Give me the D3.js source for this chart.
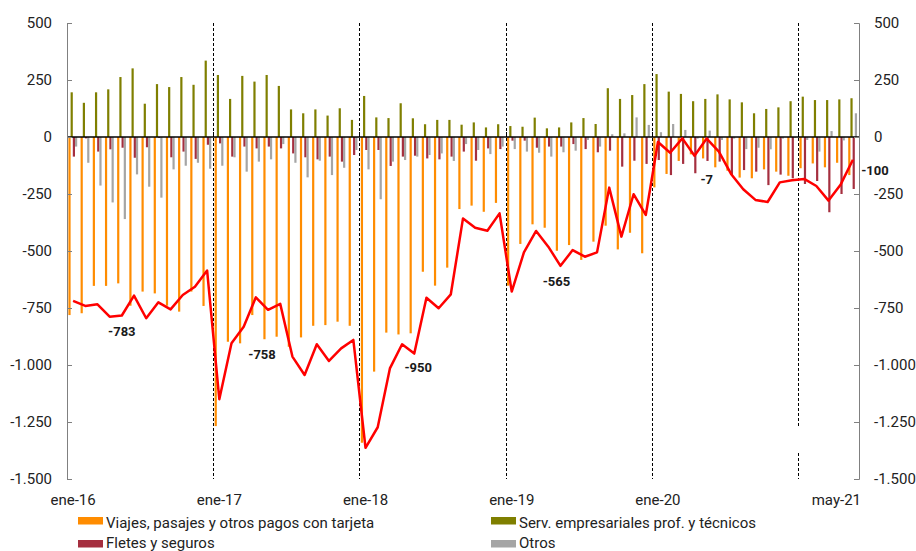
<!DOCTYPE html>
<html><head><meta charset="utf-8">
<script src="https://cdn.jsdelivr.net/npm/d3@7"></script>
<style>
html,body{margin:0;padding:0;background:#fff;}
svg{display:block;font-family:Roboto,"Noto Sans",sans-serif;}
</style></head>
<body><svg id="c" width="916" height="551"></svg>
<script>
const monthNames = ["ene","feb","mar","abr","may","jun","jul","ago","sep","oct","nov","dic"];
const categories = [];
for (let yr = 16; yr <= 21; yr++) for (let m = 0; m < 12; m++) { if (yr === 21 && m > 4) break; categories.push(monthNames[m] + "-" + yr); }

const viajes = [-781,-773,-653,-653,-642,-740,-678,-686,-740,-766,-678,-741,
-1268,-898,-905,-781,-887,-876,-920,-879,-828,-825,-810,-828,
-1341,-1029,-858,-866,-861,-591,-652,-573,-316,-301,-328,-289,
-652,-469,-383,-398,-499,-474,-539,-459,-389,-493,-420,-510,
-221,-162,-105,-76,-94,-133,-148,-178,-181,-142,-152,-170,
-137,-116,-133,-113,-167];
const servicios = [196,150,196,209,263,301,146,232,219,263,229,335,
272,167,268,243,272,224,121,104,121,94,126,75,
180,86,83,148,82,56,75,75,54,64,42,56,
48,45,85,38,42,64,83,57,214,167,184,232,
276,199,189,157,167,187,165,152,104,123,130,157,
177,162,162,165,170];
const fletes = [-86,-6,-64,-54,-47,-91,-45,-4,-89,-64,-96,-34,
-28,-86,-42,-50,-42,-50,-72,-89,-98,-86,-108,-79,
-57,-57,-127,-86,-82,-94,-98,-86,-64,-104,-50,-53,
-16,-16,-47,-42,-42,-31,-53,-67,-60,-130,-104,-118,
-101,-167,-118,-159,-105,-108,-167,-145,-152,-211,-165,-181,
-206,-193,-330,-250,-228];
const otros = [-42,-113,-213,-287,-360,-164,-218,-266,-142,-126,-113,-139,
-126,-89,-152,-108,-98,-31,-113,-177,-104,-167,-135,-57,
-142,-273,-108,-101,-86,-79,-72,-105,-31,-57,-75,-42,
-53,-64,-69,-86,-67,-60,-13,-42,12,16,86,53,
21,57,31,-7,28,-13,-7,-53,-47,-54,-7,-3,
-13,-64,26,-15,104];
const total = [-719,-741,-734,-788,-783,-696,-795,-725,-756,-693,-657,-586,
-1150,-905,-832,-703,-758,-732,-963,-1044,-909,-982,-927,-890,
-1363,-1273,-1015,-909,-950,-705,-751,-690,-357,-398,-411,-335,
-678,-506,-412,-481,-565,-496,-525,-506,-222,-437,-251,-342,
-22,-69,-6,-82,-7,-64,-162,-229,-276,-285,-199,-190,
-184,-215,-279,-208,-100];

const seriesNames = ["Viajes, pasajes y otros pagos con tarjeta","Serv. empresariales prof. y técnicos","Fletes y seguros","Otros"];
const seriesColors = ["#FF8C00","#7F7F00","#A52F3F","#A5A5A5"];
const seriesData = [viajes, servicios, fletes, otros];
const yTicks = [500,250,0,-250,-500,-750,-1000,-1250,-1500];
const xTickLabels = ["ene-16","ene-17","ene-18","ene-19","ene-20","may-21"];
const yearStarts = ["ene-17","ene-18","ene-19","ene-20","ene-21"];
const pointLabels = [{cat:"may-16",text:"-783"},{cat:"may-17",text:"-758"},{cat:"may-18",text:"-950"},{cat:"may-19",text:"-565"},{cat:"may-20",text:"-7"},{cat:"may-21",text:"-100"}];

const svg = d3.select("#c");
const L = 67, R = 859, T = 23, B = 479;
const x = d3.scaleBand().domain(categories).range([L, R]).padding(0);
const bw = x.bandwidth();
const xs = d3.scaleBand().domain(d3.range(4)).range([1.4, 10.2]).padding(0);
const y = d3.scaleLinear().domain([-1500, 500]).range([B, T]);

const loc = d3.formatLocale({decimal: ",", thousands: ".", grouping: [3], currency: ["", ""], minus: "-"});
const fmt = loc.format(",d");

// dashed year lines
yearStarts.forEach((c, k) => {
  const xx = Math.round(x(c)) + 0.5;
  const segs = (k === yearStarts.length - 1) ? [[T, 426], [453, B]] : [[T, B]];
  segs.forEach(sg => svg.append("line").attr("x1", xx).attr("x2", xx).attr("y1", sg[0]).attr("y2", sg[1])
    .attr("stroke", "#000").attr("stroke-dasharray", "3,2").attr("stroke-width", 1));
});

// bars
seriesData.forEach((arr, s) => {
  svg.append("g").selectAll("rect").data(arr).join("rect")
    .attr("x", (d, i) => x(categories[i]) + xs(s))
    .attr("width", xs.bandwidth())
    .attr("y", d => Math.min(y(d), y(0)))
    .attr("height", d => Math.abs(y(d) - y(0)))
    .attr("fill", seriesColors[s]);
});

// zero line
svg.append("line").attr("x1", L).attr("x2", R).attr("y1", y(0)).attr("y2", y(0)).attr("stroke", "#000").attr("stroke-width", 1.5);
yearStarts.forEach(c => {
  const xx = Math.round(x(c)) + 0.5;
  svg.append("line").attr("x1", xx).attr("x2", xx).attr("y1", y(0) - 5).attr("y2", y(0)).attr("stroke", "#000").attr("stroke-width", 1);
});

// total line
const line = d3.line().x((d, i) => x(categories[i]) + bw / 2).y(d => y(d));
svg.append("path").datum(total).attr("d", line).attr("fill", "none").attr("stroke", "#FF0000").attr("stroke-width", 2.5).attr("stroke-linejoin", "round");

// point labels
const labelOffsets = [[0, 20], [-6, 49], [4, 18.5], [-4, 20], [0, 45], [22, 15]];
pointLabels.forEach((p, k) => {
  const i = categories.indexOf(p.cat);
  svg.append("text").attr("x", x(p.cat) + bw / 2 + labelOffsets[k][0]).attr("y", y(total[i]) + labelOffsets[k][1])
    .attr("text-anchor", "middle").attr("font-size", 13).attr("font-weight", "bold").attr("fill", "#1a1a1a").text(p.text);
});

// axes
const axL = d3.axisLeft(y).tickValues(yTicks).tickFormat(fmt).tickSizeInner(-5).tickSizeOuter(-5).tickPadding(15);
const axR = d3.axisRight(y).tickValues(yTicks).tickFormat(fmt).tickSizeInner(-5).tickSizeOuter(-5).tickPadding(15);
const gL = svg.append("g").attr("transform", `translate(${L},0)`).call(axL);
const gR = svg.append("g").attr("transform", `translate(${R},0)`).call(axR);
[gL, gR].forEach(g => {
  g.select(".domain").attr("stroke", "#808080");
  g.selectAll(".tick line").attr("stroke", "#808080");
  g.selectAll("text").attr("font-size", 15).attr("fill", "#222").attr("font-family", "Roboto");
});

// x labels
xTickLabels.forEach(lbl => {
  const last = lbl === "may-21";
  svg.append("text").attr("x", last ? 861 : x(lbl) + bw / 2).attr("y", 505)
    .attr("text-anchor", last ? "end" : "middle").attr("font-size", 15).attr("fill", "#222").text(lbl);
});

// legend
const legPos = [[78, 517], [491, 517], [78, 540], [491, 540]];
const legBase = [527.7, 527.7, 548, 548];
seriesNames.forEach((n, s) => {
  svg.append("rect").attr("x", legPos[s][0]).attr("y", legPos[s][1]).attr("width", 25).attr("height", 7.5).attr("fill", seriesColors[s]);
  svg.append("text").attr("x", legPos[s][0] + 28).attr("y", legBase[s]).attr("font-size", 15).attr("fill", "#222").text(n);
});
</script></body></html>
